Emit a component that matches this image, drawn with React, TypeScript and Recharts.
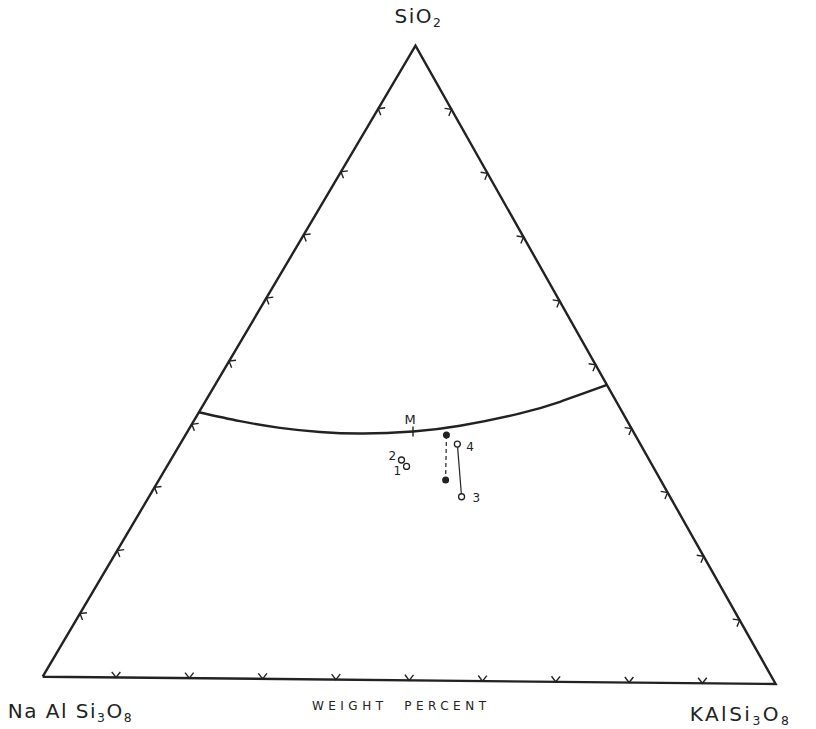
import React from 'react';
import { ScatterChart, Scatter, XAxis, YAxis } from 'recharts';

// end members, in the order BL, BR, apex
const vertexNames = ['Na Al Si₃O₈', 'KAlSi₃O₈', 'SiO₂'];
const vertexSiO2 = [0, 0, 100];
const vertexOr = [0, 100, 0];

// boundary curve (wt% SiO2, wt% KAlSi3O8)
const boundarySiO2 = [41.9, 40.56, 39.57, 38.98, 38.81, 39.21, 40.18, 42.23, 44.12, 46.84];
const boundaryOr = [0, 6.29, 12.25, 18.01, 23.96, 30.58, 36.5, 43.65, 48.14, 53.16];

// minimum on the curve
const minLabel = 'M';
const minSiO2 = 39.21;
const minOr = 30.58;

// open-circle samples
const sampleIds = ['1', '2', '3', '4'];
const sampleSiO2 = [33.7, 34.7, 29.0, 37.3];
const sampleOr = [32.5, 31.3, 42.4, 37.6];

// filled dots (joined by a dashed tie)
const dotSiO2 = [38.7, 31.6];
const dotOr = [35.4, 38.9];

// solid tie between samples 4 and 3
const tieIds = ['4', '3'];

const tickPercents = [10, 20, 30, 40, 50, 60, 70, 80, 90];
const axisTitle = 'WEIGHT PERCENT';

// --- projection (small clockwise tilt of the scanned plate) ---
const TILT = (0.57 * Math.PI) / 180;
const project = (si: number, or: number) => {
  const s = si / 100;
  const o = or / 100;
  const u = o + s / 2;
  const v = (s * Math.sqrt(3)) / 2;
  return { x: u * Math.cos(TILT) + v * Math.sin(TILT), y: -u * Math.sin(TILT) + v * Math.cos(TILT) };
};

const W = 816;
const H = 729;
const SIDE = 733;
const X0 = 42.7;
const Y0 = 676.7;
const xDomain = [-X0 / SIDE, (W - X0) / SIDE];
const yDomain = [(Y0 - H) / SIDE, Y0 / SIDE];

const INK = '#222';
const FONT = '"DejaVu Sans", Verdana, sans-serif';

const vertexData = [0, 1, 2].map((i) => ({ ...project(vertexSiO2[i], vertexOr[i]), name: vertexNames[i] }));
const frameData = [...vertexData, vertexData[0]];
const boundaryData = boundarySiO2.map((s, i) => project(s, boundaryOr[i]));
const minData = [{ ...project(minSiO2, minOr), name: minLabel }];
const sampleData = sampleIds.map((id, i) => ({ ...project(sampleSiO2[i], sampleOr[i]), id }));
const tieData = tieIds.map((id) => {
  const i = sampleIds.indexOf(id);
  return project(sampleSiO2[i], sampleOr[i]);
});
const dotData = dotSiO2.map((s, i) => project(s, dotOr[i]));
const tickData = [
  ...tickPercents.map((p) => ({ ...project(0, p), side: 'bottom' })),
  ...tickPercents.map((p) => ({ ...project(p, 0), side: 'left' })),
  ...tickPercents.map((p) => ({ ...project(p, 100 - p), side: 'right' })),
];
const titleData = [{ ...project(0, 50), name: axisTitle }];

// label placement, pixels
const vertexLabelStyle: Record<string, { dx: number; dy: number; size: number; anchor: string; spacing: number }> = {
  'Na Al Si₃O₈': { dx: -35, dy: 41, size: 20, anchor: 'start', spacing: 1.5 },
  'KAlSi₃O₈': { dx: -86, dy: 37, size: 20, anchor: 'start', spacing: 2.5 },
  'SiO₂': { dx: 3, dy: -23, size: 20, anchor: 'middle', spacing: 1.5 },
};
const sampleLabelOffset: Record<string, [number, number]> = {
  '1': [-13, 9],
  '2': [-13, 0],
  '3': [11, 5],
  '4': [9, 7],
};

const SUBS = '₀₁₂₃₄₅₆₇₈₉';
// split a formula into normal / subscript runs
const renderFormula = (str: string, size: number) => {
  const runs: { text: string; sub: boolean }[] = [];
  [...str].forEach((ch) => {
    const idx = SUBS.indexOf(ch);
    const sub = idx >= 0;
    const c = sub ? String(idx) : ch;
    const last = runs[runs.length - 1];
    if (last && last.sub === sub) last.text += c;
    else runs.push({ text: c, sub });
  });
  const shift = size * 0.22;
  let cur = 0;
  return runs.map((r, i) => {
    const target = r.sub ? shift : 0;
    const dy = target - cur;
    cur = target;
    return (
      <tspan key={i} dy={dy} fontSize={r.sub ? size * 0.62 : size}>
        {r.text}
      </tspan>
    );
  });
};

const NoShape = () => <g />;

const Chevron = (props: any) => {
  const { cx, cy, payload } = props;
  const base = payload.side === 'bottom' ? -90 : payload.side === 'left' ? 30 : 150;
  const a = ((base + 0.57) * Math.PI) / 180;
  const h = (38 * Math.PI) / 180;
  const L = 7;
  const p1 = [cx + L * Math.cos(a - h), cy + L * Math.sin(a - h)];
  const p2 = [cx + L * Math.cos(a + h), cy + L * Math.sin(a + h)];
  return (
    <path
      d={`M${p1[0]},${p1[1]} L${cx},${cy} L${p2[0]},${p2[1]}`}
      stroke={INK}
      strokeWidth={1.4}
      fill="none"
    />
  );
};

const VertexLabel = (props: any) => {
  const { cx, cy, payload } = props;
  const st = vertexLabelStyle[payload.name];
  return (
    <text
      x={cx + st.dx}
      y={cy + st.dy}
      fontFamily={FONT}
      fontSize={st.size}
      fill={INK}
      textAnchor={st.anchor as any}
      letterSpacing={st.spacing}
    >
      {renderFormula(payload.name, st.size)}
    </text>
  );
};

const TitleLabel = (props: any) => {
  const { cx, cy, payload } = props;
  return (
    <text
      x={cx - 8}
      y={cy + 30}
      fontFamily={FONT}
      fontSize={12}
      fill={INK}
      textAnchor="middle"
      letterSpacing={4.5}
      style={{ whiteSpace: 'pre' }}
    >
      {payload.name.replace(' ', '  ')}
    </text>
  );
};

const MinMark = (props: any) => {
  const { cx, cy, payload } = props;
  return (
    <g>
      <line x1={cx} y1={cy - 5} x2={cx} y2={cy + 5} stroke={INK} strokeWidth={1.4} />
      <text x={cx - 3} y={cy - 7} fontFamily={FONT} fontSize={13} fill={INK} textAnchor="middle">
        {payload.name}
      </text>
    </g>
  );
};

const OpenCircle = (props: any) => {
  const { cx, cy, payload } = props;
  const [dx, dy] = sampleLabelOffset[payload.id];
  return (
    <g>
      <circle cx={cx} cy={cy} r={3} fill="#fff" stroke={INK} strokeWidth={1.3} />
      <text x={cx + dx} y={cy + dy} fontFamily={FONT} fontSize={12} fill={INK}>
        {payload.id}
      </text>
    </g>
  );
};

const FilledDot = (props: any) => {
  const { cx, cy } = props;
  return <circle cx={cx} cy={cy} r={3.5} fill={INK} />;
};

export default function App() {
  return (
    <div style={{ position: 'absolute', left: 0, top: 0, width: W, height: H, background: '#fff' }}>
      <ScatterChart width={W} height={H} margin={{ top: 0, right: 0, bottom: 0, left: 0 }}>
        <XAxis type="number" dataKey="x" domain={xDomain} allowDataOverflow hide />
        <YAxis type="number" dataKey="y" domain={yDomain} allowDataOverflow hide />

        <Scatter
          data={frameData}
          line={{ stroke: INK, strokeWidth: 2.4, strokeLinejoin: 'miter' }}
          lineType="joint"
          shape={NoShape}
          isAnimationActive={false}
        />
        <Scatter data={tickData} shape={Chevron} isAnimationActive={false} />
        <Scatter
          data={boundaryData}
          line={{ stroke: INK, strokeWidth: 2.4 }}
          lineType="joint"
          lineJointType="natural"
          shape={NoShape}
          isAnimationActive={false}
        />
        <Scatter data={minData} shape={MinMark} isAnimationActive={false} />
        <Scatter
          data={dotData}
          line={{ stroke: INK, strokeWidth: 1.2, strokeDasharray: '4 3' }}
          lineType="joint"
          shape={FilledDot}
          isAnimationActive={false}
        />
        <Scatter
          data={tieData}
          line={{ stroke: INK, strokeWidth: 1.2 }}
          lineType="joint"
          shape={NoShape}
          isAnimationActive={false}
        />
        <Scatter data={sampleData} shape={OpenCircle} isAnimationActive={false} />
        <Scatter data={vertexData} shape={VertexLabel} isAnimationActive={false} />
        <Scatter data={titleData} shape={TitleLabel} isAnimationActive={false} />
      </ScatterChart>
    </div>
  );
}
